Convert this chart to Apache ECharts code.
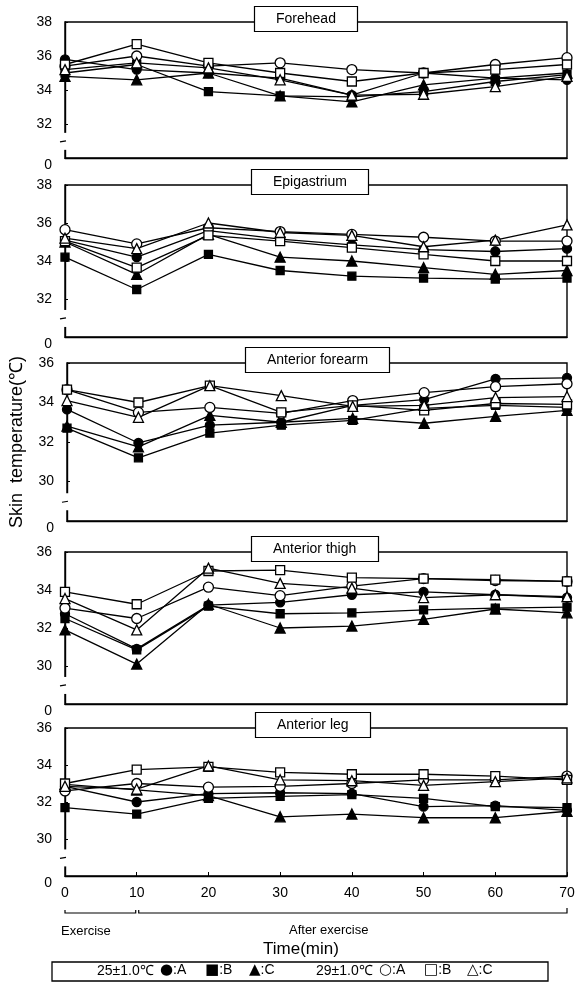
<!DOCTYPE html>
<html><head><meta charset="utf-8">
<script src="https://cdn.jsdelivr.net/npm/echarts@6/dist/echarts.min.js"></script>
<style>html,body{margin:0;padding:0;background:#fff}#c{width:578px;height:988px}</style>
</head><body><div id="c"></div>
<script>
// ---- data ----
const times = [0, 10, 20, 30, 40, 50, 60, 70];
const panelNames = ['Forehead', 'Epigastrium', 'Anterior forearm', 'Anterior thigh', 'Anterior leg'];
const xTickLabels = ['0', '10', '20', '30', '40', '50', '60', '70'];

// Forehead
const forehead25A = [35.8, 35.2, 35.0, 34.7, 33.7, 35.0, 34.7, 34.6];
const forehead25B = [35.0, 35.5, 33.9, 33.65, 33.6, 33.9, 34.5, 34.9];
const forehead25C = [34.8, 34.6, 35.0, 33.65, 33.3, 34.3, 34.7, 35.0];
const forehead29A = [35.4, 36.0, 35.4, 35.6, 35.2, 35.0, 35.5, 35.9];
const forehead29B = [35.5, 36.7, 35.6, 35.0, 34.5, 35.0, 35.2, 35.5];
const forehead29C = [35.2, 35.6, 35.3, 34.6, 33.7, 33.75, 34.2, 34.8];
// Epigastrium
const epigastrium25A = [35.1, 34.2, 35.6, 35.15, 34.85, 34.6, 34.5, 34.65];
const epigastrium25B = [34.2, 32.5, 34.35, 33.5, 33.2, 33.1, 33.05, 33.1];
const epigastrium25C = [35.0, 33.3, 35.4, 34.2, 34.0, 33.65, 33.3, 33.5];
const epigastrium29A = [35.65, 34.9, 35.75, 35.55, 35.4, 35.25, 35.05, 35.05];
const epigastrium29B = [35.05, 33.65, 35.35, 35.05, 34.7, 34.35, 34.0, 34.0];
const epigastrium29C = [35.2, 34.65, 36.0, 35.5, 35.35, 34.75, 35.1, 35.9];
// Anterior forearm
const forearm25A = [33.65, 31.95, 32.85, 33.0, 33.85, 34.15, 35.2, 35.25];
const forearm25B = [32.7, 31.2, 32.45, 32.85, 33.1, 33.7, 33.85, 33.75];
const forearm25C = [32.8, 31.75, 33.35, 33.0, 33.2, 32.95, 33.3, 33.6];
const forearm29A = [34.65, 33.5, 33.75, 33.45, 34.1, 34.5, 34.8, 34.95];
const forearm29B = [34.65, 34.0, 34.85, 33.5, 33.85, 33.6, 33.95, 33.9];
const forearm29C = [34.1, 33.25, 34.85, 34.35, 33.8, 33.85, 34.25, 34.3];
// Anterior thigh
const thigh25A = [32.75, 30.9, 33.2, 33.35, 33.75, 33.9, 33.75, 33.6];
const thigh25B = [32.5, 30.85, 33.15, 32.75, 32.8, 32.95, 33.05, 33.1];
const thigh25C = [31.9, 30.1, 33.25, 32.0, 32.1, 32.45, 33.0, 32.8];
const thigh29A = [33.05, 32.5, 34.15, 33.7, 34.2, 34.6, 34.5, 34.45];
const thigh29B = [33.9, 33.25, 35.0, 35.05, 34.65, 34.6, 34.55, 34.45];
const thigh29C = [33.55, 31.9, 35.15, 34.35, 34.1, 33.6, 33.75, 33.65];
// Anterior leg
const leg25A = [32.85, 32.0, 32.45, 32.5, 32.45, 31.75, 31.8, 31.55];
const leg25B = [31.7, 31.35, 32.2, 32.3, 32.4, 32.2, 31.75, 31.7];
const leg25C = [32.95, 32.65, 32.35, 31.2, 31.35, 31.15, 31.15, 31.5];
const leg29A = [32.6, 33.0, 32.8, 32.85, 33.0, 33.2, 33.2, 33.4];
const leg29B = [33.0, 33.75, 33.9, 33.6, 33.5, 33.5, 33.4, 33.2];
const leg29C = [32.85, 32.7, 33.95, 33.2, 33.15, 32.9, 33.1, 33.3];

const yMin = [30, 30, 28, 28, 28];
const yMax = [38, 38, 36, 36, 36];

const panelSeries = [
  [forehead25A, forehead25B, forehead25C, forehead29A, forehead29B, forehead29C],
  [epigastrium25A, epigastrium25B, epigastrium25C, epigastrium29A, epigastrium29B, epigastrium29C],
  [forearm25A, forearm25B, forearm25C, forearm29A, forearm29B, forearm29C],
  [thigh25A, thigh25B, thigh25C, thigh29A, thigh29B, thigh29C],
  [leg25A, leg25B, leg25C, leg29A, leg29B, leg29C]
];
const groupNames = ['25±1.0℃ A', '25±1.0℃ B', '25±1.0℃ C', '29±1.0℃ A', '29±1.0℃ B', '29±1.0℃ C'];
const legendTemps = ['25±1.0℃', '29±1.0℃'];
const legendSymbols = ['●', '■', '▲', '○', '□', '△'];
const legendLetters = [':A', ':B', ':C', ':A', ':B', ':C'];

// ---- styles / layout ----
const FONT = '"Liberation Sans", Arial, Helvetica, sans-serif';
const SYMFONT = '"DejaVu Sans", sans-serif';
const gridTops = [22, 185, 363, 552, 728];
const gridHeights = [136, 152, 158, 152, 148];
const titleCenters = [306, 310, 318, 315, 313];
const symbols = ['circle', 'rect', 'triangle', 'circle', 'rect', 'triangle'];
const symbolSizes = [9, 8, 10, 10, 9, 10];
const fills = ['#000', '#000', '#000', '#fff', '#fff', '#fff'];
const legendTempX = [97, 316];
const legendSymX = [160, 205, 249, 379, 424, 467];

const chart = echarts.init(document.getElementById('c'), null, {renderer: 'canvas'});

const mctx = document.createElement('canvas').getContext('2d');
mctx.font = '14px ' + FONT;

const grids = [], xAxes = [], yAxes = [], titles = [], series = [];
for (let i = 0; i < 5; i++) {
  grids.push({left: 65, right: 11, top: gridTops[i], height: gridHeights[i], show: true,
    borderColor: '#000', borderWidth: 1.4, backgroundColor: 'transparent'});
  const last = i === 4;
  xAxes.push({gridIndex: i, type: 'value', min: 0, max: 70, interval: 10,
    axisLine: {show: true, lineStyle: {color: '#000', width: 1.4}},
    axisTick: {show: last, inside: true, length: 4, lineStyle: {color: '#000', width: 1}},
    axisLabel: {show: last, color: '#000', fontSize: 14, fontFamily: FONT, margin: 10,
      formatter: v => xTickLabels[times.indexOf(v)]},
    splitLine: {show: false}});
  const mn = yMin[i];
  const y = {gridIndex: i, type: 'value', min: mn, max: yMax[i], interval: 2,
    axisLine: {show: true, lineStyle: {color: '#000', width: 1.4}},
    axisTick: {show: true, inside: true, length: 3, lineStyle: {color: '#000', width: 1}},
    axisLabel: {color: '#000', fontSize: 14, fontFamily: FONT, margin: 13,
      formatter: v => v === mn ? '{z|0}' : String(v),
      rich: {z: {padding: [14, 0, 0, 0], fontSize: 14, color: '#000', fontFamily: FONT}}},
    splitLine: {show: false}};
  if (i === 2) {
    y.name = 'Skin  temperature(℃)';
    y.nameLocation = 'middle';
    y.nameRotate = 90;
    y.nameGap = 41;
    y.nameTextStyle = {fontSize: 18, color: '#000', fontFamily: FONT};
  }
  yAxes.push(y);
  const tw = mctx.measureText(panelNames[i]).width + 44;
  titles.push({text: panelNames[i], left: Math.round(titleCenters[i] - tw / 2), top: gridTops[i] - 16,
    padding: [6, 22], backgroundColor: '#fff', borderColor: '#000', borderWidth: 1.2,
    textStyle: {fontSize: 14, fontWeight: 'normal', color: '#000', fontFamily: FONT}, z: 10});
  panelSeries[i].forEach((vals, k) => {
    series.push({type: 'line', name: groupNames[k], xAxisIndex: i, yAxisIndex: i,
      data: times.map((t, j) => [t, vals[j]]),
      symbol: symbols[k], symbolSize: symbolSizes[k], showSymbol: true,
      lineStyle: {color: '#000', width: 1.3},
      itemStyle: {color: fills[k], borderColor: '#000', borderWidth: 1.3},
      z: k >= 3 ? 4 : 3, animation: false, silent: true});
  });
}

chart.setOption({
  animation: false,
  backgroundColor: '#fff',
  title: titles,
  grid: grids,
  xAxis: xAxes,
  yAxis: yAxes,
  series: series
});

// decorations: axis breaks, period brackets, legend box
const g = [];
for (let i = 0; i < 5; i++) {
  const p = chart.convertToPixel({gridIndex: i}, [0, yMin[i] + 0.95]);
  g.push({type: 'rect', shape: {x: p[0] - 2, y: p[1] - 9, width: 4, height: 17},
    style: {fill: '#fff'}, z: 20});
  g.push({type: 'line', shape: {x1: p[0] - 5, y1: p[1], x2: p[0] + 1, y2: p[1] - 1},
    style: {stroke: '#000', lineWidth: 1.2}, z: 21});
}
const x0 = chart.convertToPixel({xAxisIndex: 4}, 0);
const x10 = chart.convertToPixel({xAxisIndex: 4}, 10);
const x70 = chart.convertToPixel({xAxisIndex: 4}, 70);
const by = 913;
g.push({type: 'polyline', shape: {points: [[x0, by - 3], [x0, by], [x10 - 1, by], [x10 - 1, by - 3]]},
  style: {stroke: '#000', lineWidth: 1.2, fill: null}, z: 20});
g.push({type: 'polyline', shape: {points: [[x10 + 2, by - 3], [x10 + 2, by], [x70, by], [x70, by - 5]]},
  style: {stroke: '#000', lineWidth: 1.2, fill: null}, z: 20});
g.push({type: 'text', left: 61, top: 925, style: {text: 'Exercise', fill: '#000', font: '13px ' + FONT}});
g.push({type: 'text', left: 289, top: 924, style: {text: 'After exercise', fill: '#000', font: '13px ' + FONT}});
g.push({type: 'text', left: 263, top: 941, style: {text: 'Time(min)', fill: '#000', font: '17px ' + FONT}});
g.push({type: 'rect', shape: {x: 52, y: 962, width: 496, height: 19}, style: {fill: '#fff', stroke: '#000', lineWidth: 1.3}, z: 20});
legendTemps.forEach((t, k) => {
  g.push({type: 'text', left: legendTempX[k], top: 964, z: 21, style: {text: t, fill: '#000', font: '14px ' + FONT}});
});
legendSymbols.forEach((s, k) => {
  g.push({type: 'text', left: legendSymX[k], top: 963, z: 21,
    style: {text: '{s|' + s + '}{t|' + legendLetters[k] + '}',
      rich: {s: {fontSize: 15, fontFamily: SYMFONT, fill: '#000', color: '#000'},
             t: {fontSize: 14, fontFamily: FONT, fill: '#000', color: '#000'}}}});
});
chart.setOption({graphic: g});
</script>
</body></html>
